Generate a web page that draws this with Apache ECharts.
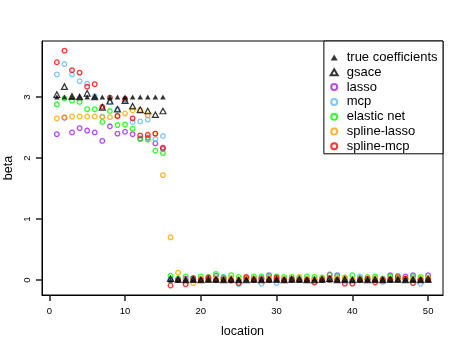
<!DOCTYPE html>
<html><head><meta charset="utf-8">
<script src="https://cdn.jsdelivr.net/npm/echarts@6/dist/echarts.min.js"></script>
<style>html,body{margin:0;padding:0;background:#fff}#c{width:465px;height:346px}</style>
</head><body><div id="c"></div>
<script>
const locations = [1,2,3,4,5,6,7,8,9,10,11,12,13,14,15,16,17,18,19,20,21,22,23,24,25,26,27,28,29,30,31,32,33,34,35,36,37,38,39,40,41,42,43,44,45,46,47,48,49,50];
const xTicks = [0,10,20,30,40,50];
const yTicks = [0,1,2,3];
const trueCoef = [3,3,3,3,3,3,3,3,3,3,3,3,3,3,3,
  0,0,0,0,0,0,0,0,0,0,0,0,0,0,0,0,0,0,0,0,0,0,0,0,0,0,0,0,0,0,0,0,0,0,0];
const gsace = [3.04,3.17,3.01,3.00,3.06,3.00,2.83,2.93,2.80,2.94,2.85,2.79,2.77,2.71,2.77,
  0.02,0.01,0.00,0.01,0.00,0.01,0.01,0.00,0.01,0.00,0.00,0.01,0.00,0.01,0.01,0.00,0.01,0.01,0.00,0.00,0.01,0.02,0.00,0.01,0.00,0.01,0.00,0.01,0.00,0.01,0.01,0.00,0.01,0.00,0.01];
const lasso = [2.39,2.66,2.42,2.49,2.45,2.42,2.28,2.52,2.40,2.43,2.39,2.32,2.33,2.24,2.15,
  0.01,0.00,0.02,0.00,0.01,0.02,0.07,0.04,0.01,0.00,0.01,0.02,0.03,0.08,0.01,0.00,0.02,0.01,0.00,0.01,0.02,0.09,0.08,0.01,0.00,0.02,0.01,0.00,0.02,0.08,0.01,0.06,0.08,0.01,0.08];
const mcp = [3.37,3.54,3.37,3.26,3.22,3.01,2.68,2.92,2.80,2.94,2.59,2.60,2.63,2.31,2.36,
  0.00,0.02,0.00,0.01,0.00,0.01,0.00,0.05,0.00,-0.07,0.00,0.01,-0.06,0.00,-0.05,0.00,0.01,0.00,0.00,0.01,0.00,0.00,0.01,-0.02,0.00,0.06,0.00,0.01,-0.03,0.00,0.01,0.00,0.00,-0.06,0.00];
const enet = [2.88,2.98,2.94,2.92,2.80,2.80,2.59,2.77,2.54,2.55,2.48,2.31,2.30,2.12,2.08,
  0.07,0.02,0.06,0.03,0.06,0.05,0.10,0.04,0.08,0.05,0.04,0.06,0.06,0.05,0.06,0.05,0.05,0.04,0.06,0.05,0.04,0.08,0.05,0.04,0.08,0.03,0.05,0.06,0.02,0.06,0.07,0.03,0.05,0.05,0.04];
const splineLasso = [2.65,2.67,2.68,2.68,2.68,2.68,2.67,2.67,2.68,2.73,2.78,2.79,2.70,2.40,1.72,
  0.70,0.12,0.00,-0.05,0.02,0.01,0.02,0.00,0.03,0.01,0.02,0.02,0.01,0.03,0.01,0.02,0.01,0.05,0.02,0.01,0.02,0.01,0.03,0.04,0.01,0.02,0.01,0.03,0.00,0.02,0.01,0.02,0.01,0.02,0.03];
const splineMcp = [3.57,3.76,3.44,3.40,3.17,3.21,2.84,2.99,2.69,2.97,2.65,2.37,2.38,2.40,2.17,
  -0.09,0.00,-0.07,0.03,0.00,0.04,0.00,0.01,-0.01,-0.05,0.05,0.00,0.01,0.00,0.04,0.00,0.01,0.00,0.00,-0.04,0.00,0.03,0.00,-0.06,-0.06,0.00,0.02,-0.04,0.00,0.01,0.05,0.02,-0.05,0.00,0.01];

const FONT = '"Liberation Sans", Arial, Helvetica, sans-serif';
const pts = vals => locations.map((x, i) => [x, vals[i]]);
const circle = (name, vals, col) => ({
  name, type: 'scatter', data: pts(vals), symbol: 'circle', symbolSize: 4.6,
  itemStyle: { color: 'rgba(0,0,0,0)', borderColor: col, borderWidth: 1.3 }
});

// plot box (R's plot region) and data ranges (R adds 4% on each side)
const W = 465, H = 346;
const box = { left: 42, top: 41, right: 443, bottom: 295 };
const xMin = -0.96, xMax = 51.96, yMin = -0.246, yMax = 3.918;

const tickLabel = { fontFamily: FONT, fontSize: 9.5, color: '#000' };
const axisLine = { show: true, onZero: false, lineStyle: { color: '#000', width: 1 } };
const tickLine = { color: '#222', width: 1.5 };

const chart = echarts.init(document.getElementById('c'), null, { renderer: 'canvas' });
chart.setOption({
  animation: false,
  backgroundColor: '#fff',
  grid: { left: box.left, top: box.top, right: W - box.right, bottom: H - box.bottom,
    outerBoundsMode: 'none', containLabel: false,
    show: true, borderColor: '#000', borderWidth: 1, backgroundColor: 'transparent' },
  xAxis: {
    type: 'value', min: xMin, max: xMax,
    name: 'location', nameLocation: 'middle', nameGap: 30,
    nameTextStyle: { fontFamily: FONT, fontSize: 12.5, color: '#000' },
    axisLine,
    axisTick: { show: true, length: 6, lineStyle: tickLine, customValues: xTicks },
    axisLabel: Object.assign({ margin: 11, customValues: xTicks }, tickLabel),
    splitLine: { show: false }
  },
  yAxis: {
    type: 'value', min: yMin, max: yMax,
    name: 'beta', nameLocation: 'middle', nameGap: 24, nameRotate: 90,
    nameTextStyle: { fontFamily: FONT, fontSize: 12.5, color: '#000' },
    axisLine,
    axisTick: { show: true, length: 6, lineStyle: tickLine, customValues: yTicks },
    axisLabel: Object.assign({ margin: 9.5, rotate: 90, customValues: yTicks }, tickLabel),
    splitLine: { show: false }
  },
  legend: {
    orient: 'vertical', right: W - box.right, top: box.top,
    data: ['true coefficients','gsace','lasso','mcp','elastic net','spline-lasso','spline-mcp'],
    itemWidth: 7, itemHeight: 6, itemGap: 1.8,
    padding: [10, 5.5, 1, 5.8],
    borderColor: '#000', borderWidth: 1, backgroundColor: '#fff',
    textStyle: { fontFamily: FONT, fontSize: 13, color: '#000', padding: [0, 0, 0, 4] },
    selectedMode: false
  },
  series: [
    circle('lasso', lasso, '#A020F0'),
    circle('mcp', mcp, '#63B8FF'),
    circle('elastic net', enet, '#00FF00'),
    circle('spline-lasso', splineLasso, '#FFA500'),
    circle('spline-mcp', splineMcp, '#FF0000'),
    { name: 'gsace', type: 'scatter', data: pts(gsace), symbol: 'triangle', symbolSize: [6, 5.5],
      itemStyle: { color: 'rgba(0,0,0,0)', borderColor: '#000', borderWidth: 1.2 } },
    { name: 'true coefficients', type: 'scatter', data: pts(trueCoef), symbol: 'triangle', symbolSize: [5.5, 5],
      itemStyle: { color: '#000' } }
  ]
});
</script>
</body></html>
